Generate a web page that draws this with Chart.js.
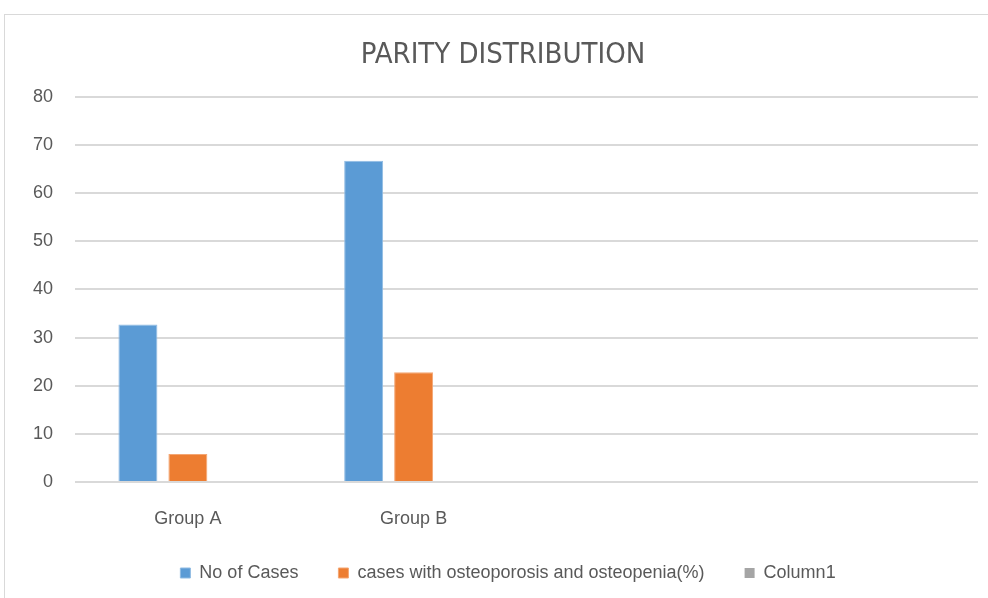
<!DOCTYPE html>
<html>
<head>
<meta charset="utf-8">
<script src="https://cdn.jsdelivr.net/npm/chart.js@4"></script>
<style>
  html, body { margin: 0; padding: 0; background: #fff; }
  body { width: 988px; height: 598px; position: relative; overflow: hidden; }
  .frame { position: absolute; left: 4px; top: 14px; width: 1000px; height: 600px; border: 1px solid #d9d9d9; }
  #chart { position: absolute; left: 0; top: 0; }
</style>
</head>
<body>
<div class="frame"></div>
<canvas id="chart" width="988" height="598"></canvas>
<script>
// ---------- data ----------
const categories = ['Group A', 'Group B', '', ''];
const noOfCases = [32.7, 66.7, null, null];
const osteoCases = [5.8, 22.8, null, null];
const column1 = [null, null, null, null];
const yTicks = [0, 10, 20, 30, 40, 50, 60, 70, 80];

const textColor = '#595959';
const baseFont = 'Liberation Sans, Arial, sans-serif';

// nudge title + legend, like the original's placement
const shiftBoxes = {
  id: 'shiftBoxes',
  afterLayout(chart) {
    chart.titleBlock.left += 14;
    chart.titleBlock.right += 14;
    chart.legend.left += 19;
    chart.legend.right += 19;
    chart.legend.top -= 18;
    chart.legend.bottom -= 18;
  }
};

new Chart(document.getElementById('chart'), {
  type: 'bar',
  data: {
    labels: categories,
    datasets: [
      { label: 'No of Cases', data: noOfCases, backgroundColor: '#5b9bd5', borderColor: '#8fbbe3', borderWidth: 1 },
      { label: 'cases with osteoporosis and osteopenia(%)', data: osteoCases, backgroundColor: '#ed7d31', borderColor: '#f4a673', borderWidth: 1 },
      { label: 'Column1', data: column1, backgroundColor: '#a5a5a5' }
    ]
  },
  options: {
    responsive: false,
    animation: false,
    categoryPercentage: 0.664,
    barPercentage: 0.78,
    layout: { padding: { left: 0, right: 10, top: 0, bottom: -12 } },
    plugins: {
      title: {
        display: true,
        text: 'PARITY DISTRIBUTION',
        color: textColor,
        font: { family: "'Liberation Sans Narrow', 'DejaVu Sans Condensed', sans-serif", size: 29, weight: 'normal' },
        padding: { top: 38, bottom: 24 }
      },
      legend: {
        position: 'bottom',
        labels: {
          color: textColor,
          font: { family: baseFont, size: 18 },
          boxWidth: 10,
          boxHeight: 10,
          padding: 40
        }
      },
      tooltip: { enabled: false }
    },
    scales: {
      x: {
        afterFit: (s) => { s.height = 60; },
        grid: { display: false },
        border: { display: false },
        ticks: { color: textColor, font: { family: baseFont, size: 18 }, padding: 18 }
      },
      y: {
        min: 0,
        max: 80,
        afterFit: (s) => { s.width = 75; },
        afterBuildTicks: (s) => { s.ticks = yTicks.map(v => ({ value: v })); },
        grid: { color: '#d9d9d9', lineWidth: 2, drawTicks: false },
        border: { display: false },
        ticks: { color: textColor, font: { family: baseFont, size: 18 }, padding: 22 }
      }
    }
  },
  plugins: [shiftBoxes]
});
</script>
</body>
</html>
